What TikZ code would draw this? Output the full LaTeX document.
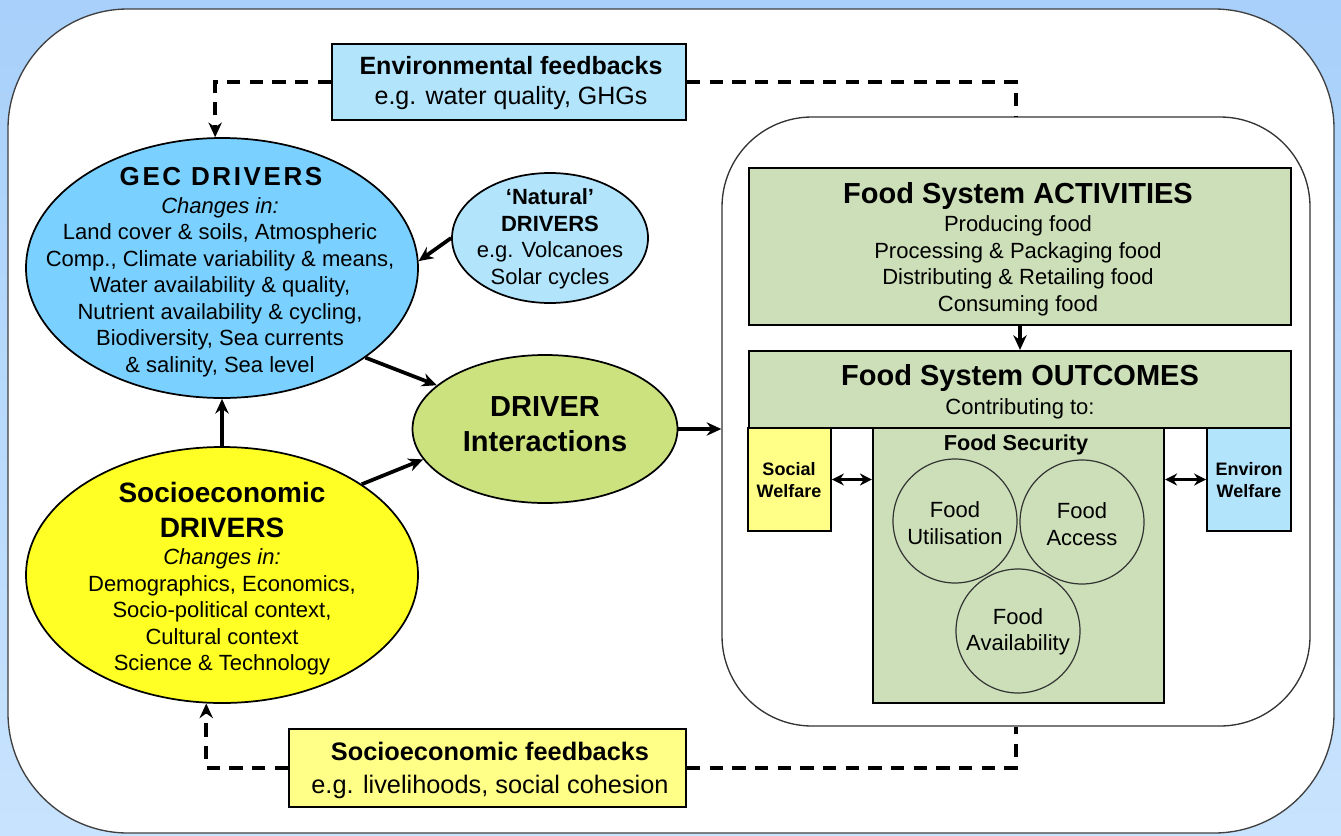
\documentclass[tikz,border=0pt]{standalone}
\usepackage{fontspec}
\setmainfont{Liberation Sans}
\usetikzlibrary{shapes.geometric,arrows.meta}
\definecolor{bgtop}{RGB}{168,208,250}
\definecolor{bgbot}{RGB}{200,227,253}
\definecolor{gecblue}{RGB}{122,208,255}
\definecolor{paleblue}{RGB}{178,228,252}
\definecolor{intgreen}{RGB}{204,226,126}
\definecolor{socyellow}{RGB}{255,255,38}
\definecolor{paleyellow}{RGB}{255,255,136}
\definecolor{fsgreen}{RGB}{204,223,184}
\begin{document}
\begin{tikzpicture}[x=0.75pt,y=-0.75pt,
  bx/.style={draw=black, line width=1.6pt, inner sep=0pt, rectangle},
  ell/.style={ellipse, draw=black, line width=1.3pt, inner sep=0pt},
  circ/.style={circle, draw=black!80, line width=0.9pt, inner sep=0pt, minimum size=93pt},
  arr/.style={line width=2.8pt, -{Stealth[length=11pt,width=10pt]}},
  darr/.style={line width=2.8pt, {Stealth[length=9pt,width=9pt]}-{Stealth[length=9pt,width=9pt]}},
  fb/.style={line width=2.8pt, dash pattern=on 10pt off 7pt},
  txt/.style={align=center, inner sep=0pt},
  fbody/.style={font=\fontsize{16.5}{19.875}\selectfont},
  fhead/.style={font=\fontsize{21.75}{26.25}\selectfont\bfseries},
  ffb/.style={font=\fontsize{18.75}{22.5}\selectfont},
  fwel/.style={font=\fontsize{13.5}{16.5}\selectfont\bfseries},
]
\useasboundingbox (0,0) rectangle (1341,835);
\fill[top color=bgtop, bottom color=bgbot] (0,0) rectangle (1341,835);
\draw[fill=white, draw=black!75, line width=1pt, rounded corners=90pt] (8,9) rectangle (1334,833);

% food system container
\node[rectangle, draw=black!80, line width=1pt, fill=white, rounded corners=67.5pt,
      minimum width=441pt, minimum height=456.75pt, inner sep=0pt] (fsys) at (1016,421.5) {};

% boxes
\node[bx, fill=fsgreen, minimum width=406.5pt, minimum height=117.75pt] (act) at (1020,246.5) {};
\node[bx, fill=fsgreen, minimum width=406.5pt, minimum height=57.75pt] (out) at (1020,389.5) {};
\node[bx, fill=paleyellow, line width=1.3pt, minimum width=62.25pt, minimum height=77.25pt] (sw) at (789.5,479.5) {};
\node[bx, fill=fsgreen, minimum width=218.25pt, minimum height=206.25pt] (fs) at (1018.5,565.5) {};
\node[bx, fill=paleblue, line width=1.3pt, minimum width=63pt, minimum height=77.25pt] (ew) at (1249,479.5) {};

\node[circ] (util) at (955,521) {};
\node[circ] (acc) at (1082,522) {};
\node[circ] (avail) at (1018,631) {};

% feedback boxes
\node[bx, fill=paleblue, line width=1.3pt, minimum width=265.5pt, minimum height=57pt] (envfb) at (509,82) {};
\node[bx, fill=paleyellow, line width=1.3pt, minimum width=297.75pt, minimum height=58.5pt] (sofb) at (487.5,768) {};

% ellipses
\node[ell, fill=gecblue, minimum width=294pt, minimum height=195pt] (gec) at (222,268) {};
\node[ell, fill=paleblue, minimum width=147pt, minimum height=97.5pt] (nat) at (550,238) {};
\node[ell, fill=intgreen, minimum width=198.75pt, minimum height=111pt] (int) at (545,429) {};
\node[ell, fill=socyellow, minimum width=294pt, minimum height=192pt] (soc) at (222,575) {};

% texts
\node[txt, font=\fontsize{19.5}{24}\selectfont\bfseries\addfontfeatures{LetterSpace=10}] (gect) at (221,177) {GEC DRIVERS};
\node[txt, fbody] (gecb) at (220,287) {\textit{Changes in:}\\Land cover \& soils, Atmospheric\\Comp., Climate variability \& means,\\Water availability \& quality,\\Nutrient availability \& cycling,\\Biodiversity, Sea currents\\\& salinity, Sea level};
\node[txt, fbody] (natt) at (550,239) {\textbf{‘Natural’}\\\textbf{DRIVERS}\\e.g. Volcanoes\\Solar cycles};
\node[txt, font=\fontsize{21.75}{26.25}\selectfont\bfseries] (intt) at (545,424) {DRIVER\\Interactions};
\node[txt, font=\fontsize{21}{26.25}\selectfont\bfseries] (soct) at (222,510) {Socioeconomic\\DRIVERS};
\node[txt, fbody] (socb) at (222,612) {\textit{Changes in:}\\Demographics, Economics,\\Socio-political context,\\Cultural context\\Science \& Technology};
\node[txt, ffb] (envt) at (511,83) {\textbf{Environmental feedbacks}\\e.g. water quality, GHGs};
\node[txt, font=\fontsize{19}{24.75}\selectfont] (soft) at (490,770) {\textbf{Socioeconomic feedbacks}\\e.g. livelihoods, social cohesion};
\node[txt, fhead] (actt) at (1018,196) {Food System ACTIVITIES};
\node[txt, fbody] (actb) at (1018,266) {Producing food\\Processing \& Packaging food\\Distributing \& Retailing food\\Consuming food};
\node[txt, fhead] (outt) at (1020,378) {Food System OUTCOMES};
\node[txt, fbody] (outb) at (1020,409) {Contributing to:};
\node[txt, font=\fontsize{16.25}{19}\selectfont\bfseries] (fst) at (1016,445) {Food Security};
\node[txt, fbody] (utilt) at (955,523) {Food\\Utilisation};
\node[txt, fbody] (acct) at (1082,524) {Food\\Access};
\node[txt, fbody] (availt) at (1018,632) {Food\\Availability};
\node[txt, fwel] (swt) at (789,480) {Social\\Welfare};
\node[txt, fwel] (ewt) at (1249,480) {Environ\\Welfare};

% connectors
\draw[arr] (nat.west) -- (gec.2);
\draw[arr] (gec.-32) -- (int.158);
\draw[arr] (soc.33) -- (int.194);
\draw[arr] (soc.north) -- (gec.south);
\draw[arr] (int.east) -- (int.east -| fsys.west);
\draw[arr] (act.south) -- (out.north);
\draw[darr] (sw.east) -- (sw.east -| fs.west);
\draw[darr] (ew.west) -- (ew.west -| fs.east);

\draw[fb, -{Stealth[length=11pt,width=10pt]}] (envfb.west) -| (gec.93);
\draw[fb] (envfb.east) -| (fsys.north);
\draw[fb, -{Stealth[length=11pt,width=10pt]}] (sofb.west) -| (soc.-97);
\draw[fb] (sofb.east) -| (fsys.south);
\end{tikzpicture}
\end{document}
